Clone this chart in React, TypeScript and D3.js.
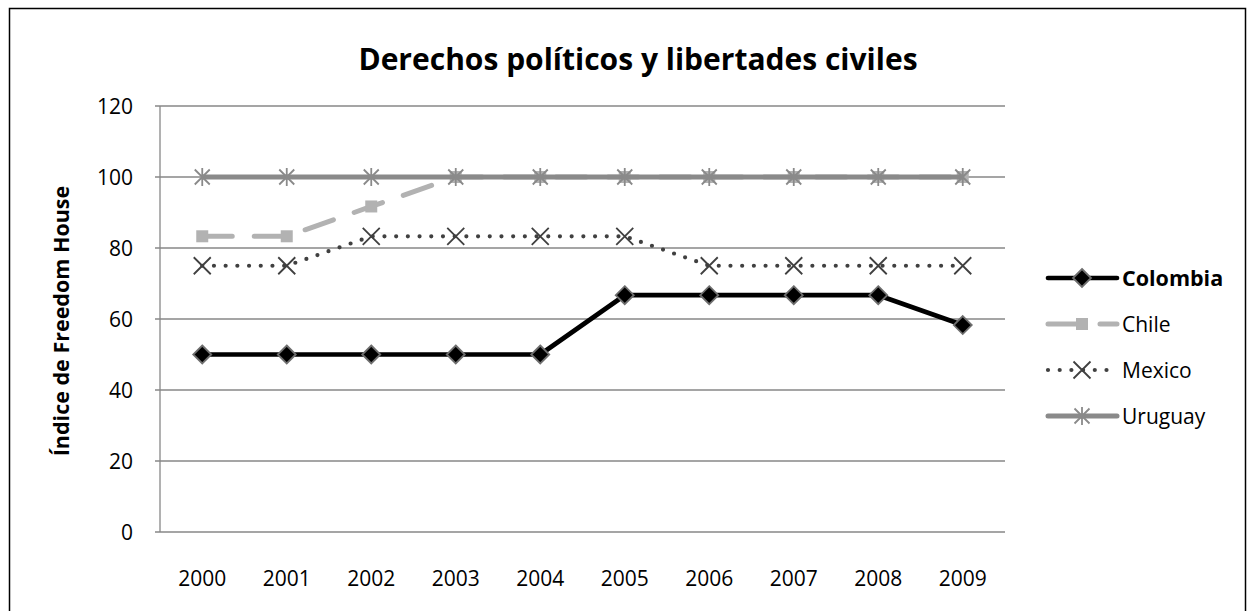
import React from "react";
import * as d3 from "d3";

const years = ["2000", "2001", "2002", "2003", "2004", "2005", "2006", "2007", "2008", "2009"];
const colombia = [50, 50, 50, 50, 50, 66.7, 66.7, 66.7, 66.7, 58.3];
const chile = [83.3, 83.3, 91.7, 100, 100, 100, 100, 100, 100, 100];
const mexico = [75, 75, 83.3, 83.3, 83.3, 83.3, 75, 75, 75, 75];
const uruguay = [100, 100, 100, 100, 100, 100, 100, 100, 100, 100];
const yTicks = [0, 20, 40, 60, 80, 100, 120];
const seriesNames = ["Colombia", "Chile", "Mexico", "Uruguay"];

const W = 1247, H = 611;
const plot = { left: 160, right: 1005, top: 106, bottom: 532 };
const FONT = "'Open Sans', 'Noto Sans', sans-serif";

function Marker({ kind, x, y }: { kind: string; x: number; y: number }) {
  if (kind === "Colombia") {
    const s = 9;
    return <path d={`M${x},${y - s}L${x + s},${y}L${x},${y + s}L${x - s},${y}Z`} fill="#000" stroke="#6e6e6e" strokeWidth={1.8} />;
  }
  if (kind === "Chile") {
    return <rect x={x - 6} y={y - 6} width={12} height={12} fill="#b2b2b2" />;
  }
  if (kind === "Mexico") {
    const s = 8.5;
    return <path d={`M${x - s},${y - s}L${x + s},${y + s}M${x - s},${y + s}L${x + s},${y - s}`} stroke="#404040" strokeWidth={1.8} fill="none" />;
  }
  const s = 7.5;
  return <path d={`M${x - s},${y - s}L${x + s},${y + s}M${x - s},${y + s}L${x + s},${y - s}M${x},${y - s - 1.5}L${x},${y + s + 1.5}`} stroke="#8a8a8a" strokeWidth={1.8} fill="none" />;
}

const styles: Record<string, any> = {
  Colombia: { stroke: "#000", strokeWidth: 4.7, dash: undefined, cap: "butt" },
  Chile: { stroke: "#b2b2b2", strokeWidth: 5, dash: "30 22", cap: "round" },
  Mexico: { stroke: "#404040", strokeWidth: 4.2, dash: "0 11.7", cap: "round" },
  Uruguay: { stroke: "#8a8a8a", strokeWidth: 5, dash: undefined, cap: "butt" },
};

export default function App() {
  const x = d3.scaleBand<string>().domain(years).range([plot.left, plot.right]);
  const y = d3.scaleLinear().domain([0, 120]).range([plot.bottom, plot.top]);
  const cx = (yr: string) => (x(yr) as number) + x.bandwidth() / 2;
  const data: Record<string, number[]> = { Colombia: colombia, Chile: chile, Mexico: mexico, Uruguay: uruguay };
  const line = d3.line<number>().x((_, i) => cx(years[i])).y((d) => y(d));

  const legendY = [278, 324, 370, 416];

  return (
    <svg width={W} height={H} style={{ position: "absolute", left: 0, top: 0, background: "#fff" }} fontFamily={FONT}>
      <rect x={9.5} y={8.5} width={1236} height={700} fill="#fff" stroke="#000" strokeWidth={1.5} />
      <text x={638} y={70} textAnchor="middle" fontSize={30} fontWeight="bold" fill="#000">Derechos políticos y libertades civiles</text>
      {yTicks.map((t) => (
        <g key={t}>
          {t > 0 && <line x1={plot.left - 5} x2={plot.right} y1={y(t)} y2={y(t)} stroke="#878787" strokeWidth={1.3} />}
          <text x={133} y={y(t) + 7.5} textAnchor="end" fontSize={21} fill="#000">{t}</text>
        </g>
      ))}
      <line x1={plot.left} x2={plot.left} y1={plot.top} y2={plot.bottom} stroke="#878787" strokeWidth={1.3} />
      <line x1={plot.left - 5} x2={plot.right} y1={plot.bottom} y2={plot.bottom} stroke="#878787" strokeWidth={1.3} />
      {years.map((yr) => (
        <text key={yr} x={cx(yr)} y={586} textAnchor="middle" fontSize={21} fill="#000">{yr}</text>
      ))}
      <text transform={`translate(69,${(plot.top + plot.bottom) / 2 + 2}) rotate(-90)`} textAnchor="middle" fontSize={21.5} fontWeight="bold" fill="#000">Índice de Freedom House</text>
      {seriesNames.map((name) => {
        const st = styles[name];
        return (
          <g key={name}>
            <path d={line(data[name]) || ""} fill="none" stroke={st.stroke} strokeWidth={st.strokeWidth} strokeDasharray={st.dash} strokeLinecap={st.cap} strokeLinejoin="round" />
            {data[name].map((v, i) => <Marker key={i} kind={name} x={cx(years[i])} y={y(v)} />)}
          </g>
        );
      })}
      {seriesNames.map((name, i) => {
        const st = styles[name];
        const ly = legendY[i];
        return (
          <g key={name}>
            <line x1={1048} x2={1117} y1={ly} y2={ly} stroke={st.stroke} strokeWidth={st.strokeWidth} strokeDasharray={st.dash} strokeLinecap="round" />
            <Marker kind={name} x={1082} y={ly} />
            <text x={1122} y={ly + 7.5} fontSize={name === "Colombia" ? 21.5 : 21} fontWeight={name === "Colombia" ? "bold" : "normal"} fill="#000">{name}</text>
          </g>
        );
      })}
    </svg>
  );
}
